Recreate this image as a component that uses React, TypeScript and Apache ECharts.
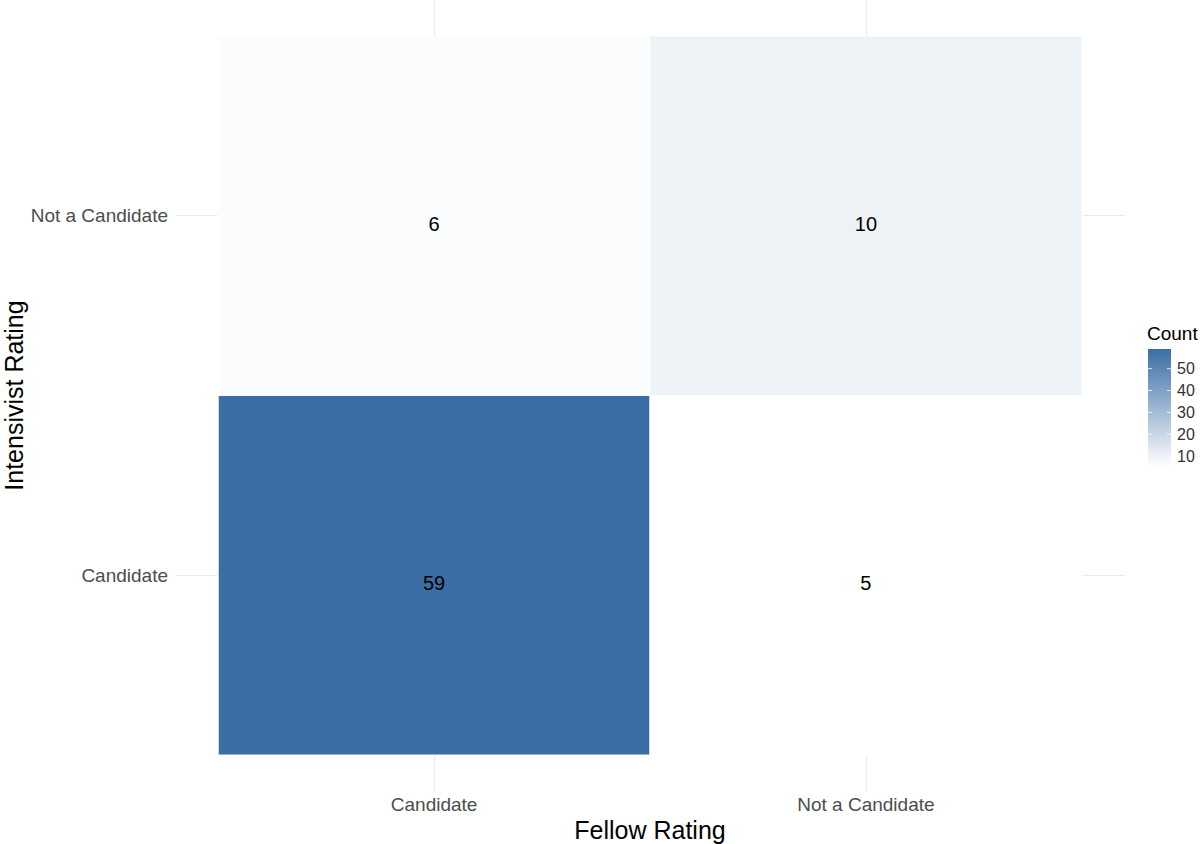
import React, { useEffect, useRef } from "react";
import * as echarts from "echarts";

const fellowCategories = ["Candidate", "Not a Candidate"];
const intensivistCategories = ["Candidate", "Not a Candidate"];
// [fellowIndex, intensivistIndex, count]
const cells: [number, number, number][] = [
  [0, 0, 59],
  [1, 0, 5],
  [0, 1, 6],
  [1, 1, 10],
];
const legendTicks = [10, 20, 30, 40, 50];
const lowColor = "#ffffff";
const highColor = "#3a6ea5";

const FONT = "Liberation Sans, Arial, Helvetica, sans-serif";

export default function App() {
  const ref = useRef<HTMLDivElement>(null);
  useEffect(() => {
    if (!ref.current) return;
    const chart = echarts.init(ref.current, undefined, { renderer: "svg" });
    const counts = cells.map((c) => c[2]);
    const vMin = Math.min(...counts);
    const vMax = Math.max(...counts);

    // legend geometry
    const barX = 1148, barTop = 349, barW = 23, barH = 118;
    const yOf = (v: number) => barTop + barH - ((v - vMin) / (vMax - vMin)) * barH;
    const legendGraphics: any[] = [
      {
        type: "text",
        x: 1147,
        y: 333,
        style: { text: "Count", font: `19px ${FONT}`, fill: "#000", verticalAlign: "middle" },
      },
      {
        type: "rect",
        shape: { x: barX, y: barTop, width: barW, height: barH },
        style: {
          fill: new echarts.graphic.LinearGradient(0, 0, 0, 1, [
            { offset: 0, color: highColor },
            { offset: 1, color: lowColor },
          ]),
        },
      },
    ];
    legendTicks.forEach((t) => {
      const y = yOf(t);
      legendGraphics.push(
        { type: "line", shape: { x1: barX, y1: y, x2: barX + 4, y2: y }, style: { stroke: "rgba(255,255,255,0.8)", lineWidth: 1 } },
        { type: "line", shape: { x1: barX + barW - 4, y1: y, x2: barX + barW, y2: y }, style: { stroke: "rgba(255,255,255,0.8)", lineWidth: 1 } },
        {
          type: "text",
          x: 1177,
          y: y,
          style: { text: String(t), font: `16px ${FONT}`, fill: "#333", verticalAlign: "middle" },
        }
      );
    });

    chart.setOption({
      animation: false,
      backgroundColor: "#ffffff",
      grid: { left: 175, right: 75, top: 0, bottom: 53, containLabel: false, outerBoundsMode: "none" },
      xAxis: {
        type: "value",
        min: 0.4,
        max: 2.6,
        name: "Fellow Rating",
        nameLocation: "middle",
        nameGap: 26,
        nameMoveOverlap: false,
        nameTextStyle: { fontSize: 25, color: "#000", fontFamily: FONT },
        axisLine: { show: false },
        axisTick: { show: false, customValues: [1, 2] },
        axisLabel: {
          customValues: [1, 2],
          formatter: (v: number) => fellowCategories[Math.round(v) - 1] ?? "",
          fontSize: 19,
          color: "#4d4d4d",
          fontFamily: FONT,
          margin: 4,
        },
        splitLine: { show: true, lineStyle: { color: "#ebebeb", width: 1.2 } },
      },
      yAxis: {
        type: "value",
        min: 0.4,
        max: 2.6,
        name: "Intensivist Rating",
        nameLocation: "middle",
        nameGap: 149,
        nameMoveOverlap: false,
        nameTextStyle: { fontSize: 25, color: "#000", fontFamily: FONT },
        axisLine: { show: false },
        axisTick: { show: false, customValues: [1, 2] },
        axisLabel: {
          customValues: [1, 2],
          formatter: (v: number) => intensivistCategories[Math.round(v) - 1] ?? "",
          fontSize: 19,
          color: "#4d4d4d",
          fontFamily: FONT,
          margin: 7,
        },
        splitLine: { show: true, lineStyle: { color: "#ebebeb", width: 1.2 } },
      },
      visualMap: {
        show: false,
        type: "continuous",
        min: vMin,
        max: vMax,
        dimension: 2,
        seriesIndex: 0,
        inRange: { color: [lowColor, highColor] },
      },
      series: [
        {
          type: "custom",
          data: cells.map((c) => [c[0] + 1, c[1] + 1, c[2]]),
          encode: { x: 0, y: 1 },
          renderItem: (params: any, api: any) => {
            const x = api.value(0);
            const y = api.value(1);
            const p0 = api.coord([x - 0.5, y + 0.5]);
            const p1 = api.coord([x + 0.5, y - 0.5]);
            return {
              type: "group",
              children: [
                {
                  type: "rect",
                  shape: { x: p0[0], y: p0[1], width: p1[0] - p0[0], height: p1[1] - p0[1] },
                  style: { fill: api.visual("color"), stroke: "#ffffff", lineWidth: 1 },
                },
                {
                  type: "text",
                  x: (p0[0] + p1[0]) / 2,
                  y: (p0[1] + p1[1]) / 2 + 8,
                  style: {
                    text: String(api.value(2)),
                    font: `20px ${FONT}`,
                    fill: "#000",
                    align: "center",
                    verticalAlign: "middle",
                  },
                },
              ],
            };
          },
        },
      ],
      graphic: legendGraphics,
    });
    return () => chart.dispose();
  }, []);
  return <div ref={ref} style={{ width: 1200, height: 844, position: "absolute", left: 0, top: 0 }} />;
}
